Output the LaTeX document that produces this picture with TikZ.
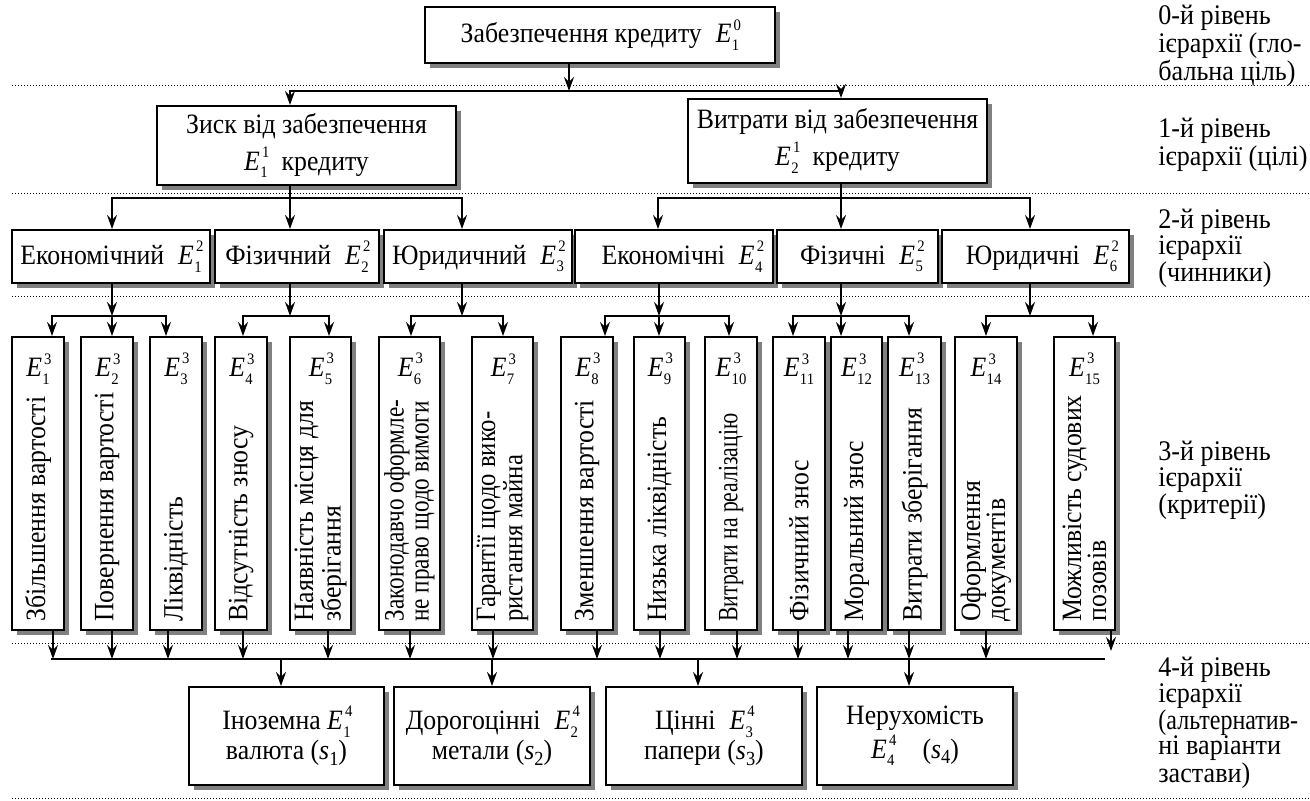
\documentclass[tikz,border=0pt]{standalone}
\usepackage{fontspec}
\setmainfont{Liberation Serif}[FakeStretch=0.92]
\usetikzlibrary{arrows.meta,shadows}

% font sizes (picture unit: 1 = 0.5pt)
\newcommand{\fs}{\fontsize{14}{14}\selectfont}
\newcommand{\lfs}{\fontsize{14.2}{12.6}\selectfont}
\newcommand{\vfs}{\fontsize{14}{12.5}\selectfont}
\newcommand{\idx}{\fontsize{8}{8}\selectfont}
% E with lower and upper index
\newcommand{\Eij}[2]{\textit{E}\kern0.2pt\rlap{\kern0.9pt\raisebox{1.0ex}{\idx #2}}\raisebox{-0.6ex}{\idx #1}}
% alternative s_k
\newcommand{\sv}[1]{\textit{s}\raisebox{-0.45ex}{\fontsize{10}{10}\selectfont #1}}
% box given by its corners (x1,y1,x2,y2)
\newcommand{\bx}[6]{\node[box, minimum width={(#4-#2)*0.5pt}, minimum height={(#5-#3)*0.5pt}] (#1) at ({(#2+#4)/2},{(#3+#5)/2}) {#6};}
% horizontally condensed text
\newcommand{\cond}[2]{\scalebox{#1}[1]{#2}}

\tikzset{
  box/.style={draw, line width=1pt, fill=white, inner sep=0pt, align=center, font=\fs,
    general shadow={fill=black!50, shadow xshift=2.5pt, shadow yshift=-2.5pt}},
  ln/.style={line width=0.8pt},
  arr/.style={line width=0.8pt, -{Stealth[length=7pt,width=5pt,inset=2.5pt]}},
  sep/.style={line width=0.5pt, dash pattern=on 0.5pt off 1pt},
  lbl/.style={anchor=north west, align=left, inner sep=0pt, font=\lfs},
  etag/.style={inner sep=0pt, font=\fs},
  vtext/.style={rotate=90, anchor=west, align=left, inner sep=0pt, font=\vfs},
}

\begin{document}
\begin{tikzpicture}[x=0.5pt,y=-0.5pt]
\useasboundingbox (0,0) rectangle (1310,801);

% level separators
\foreach \y in {86,194,297,643,798}
  \draw[sep] (12,\y) -- (1310,\y);

% level labels
\node[lbl] (t0) at (1158,5) {0-й рівень\\ієрархії (гло-\\бальна ціль)};
\node[lbl] (t1) at (1158,118) {1-й рівень\\ієрархії (цілі)};
\node[lbl] (t2) at (1158,209) {2-й рівень\\ієрархії\\(чинники)};
\node[lbl] (t3) at (1158,441) {3-й рівень\\ієрархії\\(критерії)};
\node[lbl] (t4) at (1158,657) {4-й рівень\\ієрархії\\\cond{0.92}{(альтернатив-}\\ні варіанти\\застави)};

% level 0 and level 1
\bx{L0}{425}{7}{775}{63}{Забезпечення кредиту\enspace\Eij{1}{0}}
\bx{L1a}{157}{106}{456}{185}{Зиск від забезпечення\\[3pt]\Eij{1}{1}\enspace кредиту}
\bx{L1b}{688}{99}{987}{183}{Витрати від забезпечення\\[3pt]\Eij{2}{1}\enspace кредиту}

% level 2
\bx{L2a}{12}{230}{210}{283}{Економічний\enspace\Eij{1}{2}}
\bx{L2b}{215}{230}{379}{283}{Фізичний\enspace\Eij{2}{2}}
\bx{L2c}{384}{230}{572}{283}{Юридичний\enspace\Eij{3}{2}}
\bx{L2d}{575}{230}{773}{283}{\hspace*{8pt}Економічні\enspace\Eij{4}{2}}
\bx{L2e}{777}{230}{938}{283}{\hspace*{4pt}Фізичні\enspace\Eij{5}{2}}
\bx{L2f}{942}{230}{1129}{283}{\hspace*{6pt}Юридичні\enspace\Eij{6}{2}}

% level 3 boxes
\foreach \n/\a/\b in {1/12/64, 2/81/133, 3/150/202, 4/215/267, 5/290/351,
    6/379/440, 7/472/533, 8/561/613, 9/634/685, 10/705/757, 11/773/825,
    12/831/882, 13/888/941, 14/955/1017, 15/1054/1115}
  \bx{C\n}{\a}{337}{\b}{630}{};

% level 3 indices
\foreach \n in {1,...,15}
  \node[etag] (ce\n) at (C\n.north |- 0,369) {\Eij{\n}{3}};

% level 3 texts
\node[vtext] (ct1) at (C1.south |- 0,622) {Збільшення вартості};
\node[vtext] (ct2) at (C2.south |- 0,622) {Повернення вартості};
\node[vtext] (ct3) at (C3.south |- 0,622) {Ліквідність};
\node[vtext] (ct4) at (C4.south |- 0,622) {Відсутність зносу};
\node[vtext] (ct5) at (C5.south |- 0,622) {Наявність місця для\\зберігання};
\node[vtext] (ct6) at (C6.south |- 0,622) {\cond{0.9}{Законодавчо оформле-}\\\cond{0.9}{не право щодо вимоги}};
\node[vtext] (ct7) at (C7.south |- 0,622) {\cond{0.96}{Гарантії щодо вико-}\\\cond{0.96}{ристання майна}};
\node[vtext] (ct8) at (C8.south |- 0,622) {Зменшення вартості};
\node[vtext] (ct9) at (C9.south |- 0,622) {Низька ліквідність};
\node[vtext] (ct10) at (C10.south |- 0,622) {\cond{0.84}{Витрати на реалізацію}};
\node[vtext] (ct11) at (C11.south |- 0,622) {Фізичний знос};
\node[vtext] (ct12) at (C12.south |- 0,622) {Моральний знос};
\node[vtext] (ct13) at (C13.south |- 0,622) {Витрати зберігання};
\node[vtext] (ct14) at (C14.south |- 0,622) {Оформлення\\документів};
\node[vtext] (ct15) at (C15.south |- 0,622) {Можливість судових\\позовів};

% level 4
\bx{D1}{189}{687}{384}{785}{Іноземна \Eij{1}{4}\\[1pt]валюта (\sv{1})}
\bx{D2}{394}{687}{590}{785}{Дорогоцінні\enspace\Eij{2}{4}\\[1pt]метали (\sv{2})}
\bx{D3}{606}{687}{802}{785}{Цінні\enspace\Eij{3}{4}\\[1pt]папери (\sv{3})}
\bx{D4}{817}{687}{1013}{785}{Нерухомість\\[1pt]\Eij{4}{4}\quad(\sv{4})}

% level 0 -> level 1
\coordinate (b0) at (569,91);
\coordinate (b0l) at (290,91);
\coordinate (b0r) at (841,91);
\draw[arr] (b0 |- L0.south) -- (b0);
\draw[arr] (b0) -| (b0l |- L1a.north);
\draw[arr] (b0) -| (b0r |- L1b.north);

% level 1 -> level 2
\coordinate (b1) at (290,198);
\coordinate (b1a) at (112,198);
\coordinate (b1c) at (462,198);
\draw[ln] (b1 |- L1a.south) -- (b1);
\draw[arr] (b1) -| (b1a |- L2a.north);
\draw[arr] (b1) -- (b1 |- L2b.north);
\draw[arr] (b1) -| (b1c |- L2c.north);
\coordinate (b2) at (841,198);
\coordinate (b2a) at (658,198);
\coordinate (b2c) at (1030,198);
\draw[ln] (b2 |- L1b.south) -- (b2);
\draw[arr] (b2) -| (b2a |- L2d.north);
\draw[arr] (b2) -- (b2 |- L2e.north);
\draw[arr] (b2) -| (b2c |- L2f.north);

% level 2 -> level 3
\coordinate (g1) at (112,316);
\coordinate (g1a) at (52,316);
\coordinate (g1c) at (166,316);
\draw[arr] (g1 |- L2a.south) -- (g1);
\draw[arr] (g1) -| (g1a |- C1.north);
\draw[arr] (g1) -- (g1 |- C2.north);
\draw[arr] (g1) -| (g1c |- C3.north);

\coordinate (g2) at (290,316);
\coordinate (g2a) at (243,316);
\coordinate (g2b) at (329,316);
\draw[arr] (g2 |- L2b.south) -- (g2);
\draw[arr] (g2) -| (g2a |- C4.north);
\draw[arr] (g2) -| (g2b |- C5.north);

\coordinate (g3) at (462,316);
\coordinate (g3a) at (411,316);
\coordinate (g3b) at (503,316);
\draw[arr] (g3 |- L2c.south) -- (g3);
\draw[arr] (g3) -| (g3a |- C6.north);
\draw[arr] (g3) -| (g3b |- C7.north);

\coordinate (g4) at (659,316);
\coordinate (g4a) at (605,316);
\coordinate (g4c) at (729,316);
\draw[arr] (g4 |- L2d.south) -- (g4);
\draw[arr] (g4) -| (g4a |- C8.north);
\draw[arr] (g4) -- (g4 |- C9.north);
\draw[arr] (g4) -| (g4c |- C10.north);

\coordinate (g5) at (841,316);
\coordinate (g5a) at (793,316);
\coordinate (g5c) at (909,316);
\draw[arr] (g5 |- L2e.south) -- (g5);
\draw[arr] (g5) -| (g5a |- C11.north);
\draw[arr] (g5) -- (g5 |- C12.north);
\draw[arr] (g5) -| (g5c |- C13.north);

\coordinate (g6) at (1030,316);
\coordinate (g6a) at (986,316);
\coordinate (g6b) at (1093,316);
\draw[arr] (g6 |- L2f.south) -- (g6);
\draw[arr] (g6) -| (g6a |- C14.north);
\draw[arr] (g6) -| (g6b |- C15.north);

% level 3 -> level 4
\coordinate (ul) at (51,659);
\coordinate (ur) at (1105,659);
\draw[ln] (ul) -- (ur);
\foreach \n/\x in {1/53,2/112,3/168,4/243,5/328,6/410,7/493,8/597,9/660,
    10/737,11/798,12/848,13/909,14/986}{
  \coordinate (u\n) at (\x,659);
  \draw[arr] (u\n |- C\n.south) -- (u\n);
}
\coordinate (u15) at (1111,651);
\draw[arr] (u15 |- C15.south) -- (u15);

\foreach \n/\x in {1/281,2/492,3/698,4/909}{
  \coordinate (v\n) at (\x,659);
  \draw[arr] (v\n) -- (v\n |- D\n.north);
}
\end{tikzpicture}
\end{document}
